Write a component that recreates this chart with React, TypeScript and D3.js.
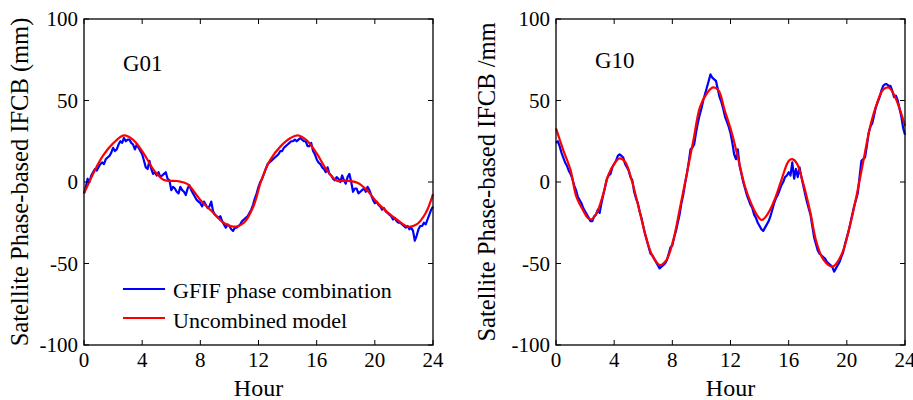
import React from "react";
import * as d3 from "d3";

// ---- Data ----
const blueStep = 0.125; // hours between blue samples
const g01Blue = [
  -7, -3, 2, 0, 4, 6, 8, 7, 9, 11, 12, 11, 14, 15, 16, 18, 21, 19, 20, 23, 25, 24, 27, 25,
  26, 26, 24, 23, 20, 23, 21, 19, 17, 13, 9, 8, 13, 8, 5, 6, 4, 6, 3, 4, 5, 6, 2, 1,
  -5, -3, -4, -6, -7, -3, -5, -6, -8, -4, -2, -5, -7, -9, -11, -12, -13, -15, -12, -14, -16, -15, -12, -18,
  -20, -21, -22, -21, -24, -26, -28, -26, -27, -29, -30, -28, -28, -27, -26, -24, -23, -22, -21, -19, -17, -14, -10, -7,
  -3, 0, 2, 5, 8, 11, 12, 13, 14, 15, 16, 17, 19, 19, 21, 22, 23, 24, 25, 25, 26, 25, 26, 27,
  26, 25, 25, 22, 22, 24, 19, 17, 14, 12, 11, 9, 8, 6, 9, 5, 4, 2, 1, 3, 2, 0, 4, 1,
  -1, 3, 5, 0, -6, -4, -4, -7, -6, -5, -4, -6, -3, -5, -8, -11, -13, -12, -14, -15, -17, -16, -18, -19,
  -20, -21, -23, -22, -24, -25, -25, -26, -27, -28, -27, -29, -28, -30, -36, -33, -29, -27, -27, -25, -26, -23, -20, -17,
  -15,
];
const g01RedHours = [0, 0.87, 1.33, 2.0, 2.75, 3.4, 4.1, 4.8, 5.5, 6.4, 7.1, 8.0, 8.9, 9.6, 10.3, 11.0, 11.65, 12.2, 12.8, 13.5, 14.2, 14.7, 15.3, 16.0, 16.7, 17.4, 18.1, 18.8, 19.45, 20.1, 20.8, 21.5, 22.3, 22.9, 23.5, 24];
const g01RedValues = [-7, 9.4, 16.5, 23.7, 28.6, 25.7, 17.6, 7.3, 1.2, 0.6, -1.2, -11, -19, -25, -27.4, -25, -15, 1.2, 13.5, 21.7, 27, 28.6, 25.7, 17.6, 7.3, 0.8, 0.8, -0.4, -4.9, -12, -18, -23, -27.4, -25.8, -19, -7.4];

const g10Blue = [
  24, 25, 22, 18, 15, 12, 10, 7, 5, 2, -2, -5, -9, -11, -13, -16, -18, -20, -22, -24, -24, -21, -20, -17,
  -19, -13, -8, -3, 2, 4, 5, 9, 11, 13, 16, 17, 16, 15, 11, 9, 7, 3, 1, -6, -10, -13, -18, -22,
  -27, -32, -36, -40, -44, -45, -47, -49, -51, -53, -52, -51, -50, -48, -44, -40, -39, -34, -30, -25, -20, -13, -8, -1,
  5, 12, 20, 21, 23, 30, 36, 41, 45, 50, 54, 58, 62, 66, 64, 63, 62, 57, 52, 49, 45, 40, 37, 34,
  30, 24, 17, 14, 20, 10, 5, 0, -4, -8, -11, -14, -16, -20, -22, -25, -27, -29, -30, -28, -26, -24, -21, -17,
  -13, -10, -8, -5, -2, 0, 3, 4, 6, 4, 12, 2, 8, 3, 9, 3, -2, -7, -12, -16, -20, -27, -34, -38,
  -42, -44, -45, -46, -47, -49, -50, -51, -52, -55, -53, -51, -49, -46, -43, -38, -34, -30, -25, -20, -15, -11, -7, 3,
  13, 14, 15, 22, 30, 34, 36, 41, 46, 49, 52, 56, 59, 60, 60, 59, 59, 56, 52, 53, 50, 45, 40, 33,
  29,
];
const g10RedHours = [0, 0.5, 1.0, 1.4, 1.9, 2.2, 2.45, 2.8, 3.26, 3.6, 4.06, 4.36, 4.75, 5.2, 5.67, 6.12, 6.6, 7.15, 7.6, 8.07, 8.5, 9.0, 9.45, 9.9, 10.37, 10.8, 11.17, 11.6, 12.1, 12.55, 13.0, 13.46, 13.8, 14.15, 14.6, 15.07, 15.5, 16.0, 16.25, 16.56, 17.0, 17.5, 17.9, 18.4, 19.0, 19.3, 19.77, 20.2, 20.7, 21.15, 21.6, 22.06, 22.5, 22.87, 23.2, 23.67, 24.0];
const g10RedValues = [32.9, 19.6, 7.3, -9, -18, -22.2, -22.9, -19, -7, 4.3, 11.8, 14.5, 12.4, 1.2, -15, -31.4, -44.7, -51, -47.8, -35.5, -17, 5.3, 25.7, 46, 54.3, 58, 56.3, 44, 29.8, 13.5, -2.9, -14, -20, -23.3, -19, -10, 1.2, 12.9, 14, 11.4, -0.8, -19, -36.5, -47.8, -52, -49.8, -41.6, -27.3, -7, 13.5, 33.9, 48, 56.7, 58, 54.3, 44, 34.3];

const xTicks = [0, 4, 8, 12, 16, 20, 24];
const yTicks = [-100, -50, 0, 50, 100];
const legendLabels = ["GFIF phase combination", "Uncombined model"];

const FONT = "Liberation Serif, Times New Roman, Times, Nimbus Roman, DejaVu Serif, serif";

type PanelProps = {
  left: number;
  right: number;
  title: string;
  titleX: number;
  titleY: number;
  yLabel: string;
  yLabelX: number;
  blue: number[];
  redH: number[];
  redV: number[];
  legend: boolean;
};

function Panel(p: PanelProps) {
  const top = 19;
  const bottom = 345;
  const x = d3.scaleLinear().domain([0, 24]).range([p.left, p.right]);
  const y = d3.scaleLinear().domain([-100, 100]).range([bottom, top]);
  const blueLine = d3
    .line<number>()
    .x((_, i) => x(i * blueStep))
    .y((v) => y(v));
  const redLine = d3
    .line<number>()
    .x((_, i) => x(p.redH[i]))
    .y((v) => y(v))
    .curve(d3.curveCatmullRom.alpha(0.5));
  const tl = 5;
  return (
    <g>
      <path d={blueLine(p.blue) || ""} fill="none" stroke="#0000ff" strokeWidth={2.2} strokeLinejoin="round" />
      <path d={redLine(p.redV) || ""} fill="none" stroke="#ff0000" strokeWidth={2.2} />
      <rect x={p.left} y={top} width={p.right - p.left} height={bottom - top} fill="none" stroke="#000" strokeWidth={1.3} />
      {xTicks.map((t) => (
        <g key={"x" + t}>
          <line x1={x(t)} x2={x(t)} y1={bottom} y2={bottom - tl} stroke="#000" />
          <line x1={x(t)} x2={x(t)} y1={top} y2={top + tl} stroke="#000" />
          <text x={x(t)} y={367} textAnchor="middle" fontSize={21} fontFamily={FONT}>
            {t}
          </text>
        </g>
      ))}
      {yTicks.map((t) => (
        <g key={"y" + t}>
          <line x1={p.left} x2={p.left + tl} y1={y(t)} y2={y(t)} stroke="#000" />
          <line x1={p.right} x2={p.right - tl} y1={y(t)} y2={y(t)} stroke="#000" />
          <text x={p.left - 6} y={y(t) + 7} textAnchor="end" fontSize={21} fontFamily={FONT}>
            {t}
          </text>
        </g>
      ))}
      <text x={(p.left + p.right) / 2} y={396} textAnchor="middle" fontSize={24} fontFamily={FONT}>
        Hour
      </text>
      <text
        transform={`translate(${p.yLabelX},${(top + bottom) / 2}) rotate(-90)`}
        textAnchor="middle"
        fontSize={24.5}
        fontFamily={FONT}
      >
        {p.yLabel}
      </text>
      <text x={p.titleX} y={p.titleY} fontSize={23} fontFamily={FONT}>
        {p.title}
      </text>
      {p.legend && (
        <g>
          <line x1={123} x2={165} y1={289} y2={289} stroke="#0000ff" strokeWidth={2} />
          <text x={173} y={298} fontSize={22} fontFamily={FONT}>
            {legendLabels[0]}
          </text>
          <line x1={123} x2={165} y1={318} y2={318} stroke="#ff0000" strokeWidth={2} />
          <text x={173} y={328} fontSize={22} fontFamily={FONT}>
            {legendLabels[1]}
          </text>
        </g>
      )}
    </g>
  );
}

export default function App() {
  return (
    <svg width={913} height={400} style={{ position: "absolute", left: 0, top: 0, background: "#fff" }}>
      <rect width={913} height={400} fill="#fff" />
      <Panel
        left={84}
        right={433}
        title="G01"
        titleX={123}
        titleY={71}
        yLabel="Satellite Phase-based IFCB (mm)"
        yLabelX={28}
        blue={g01Blue}
        redH={g01RedHours}
        redV={g01RedValues}
        legend={true}
      />
      <Panel
        left={556}
        right={905}
        title="G10"
        titleX={595}
        titleY={68}
        yLabel="Satellite Phase-based IFCB /mm"
        yLabelX={495}
        blue={g10Blue}
        redH={g10RedHours}
        redV={g10RedValues}
        legend={false}
      />
    </svg>
  );
}
